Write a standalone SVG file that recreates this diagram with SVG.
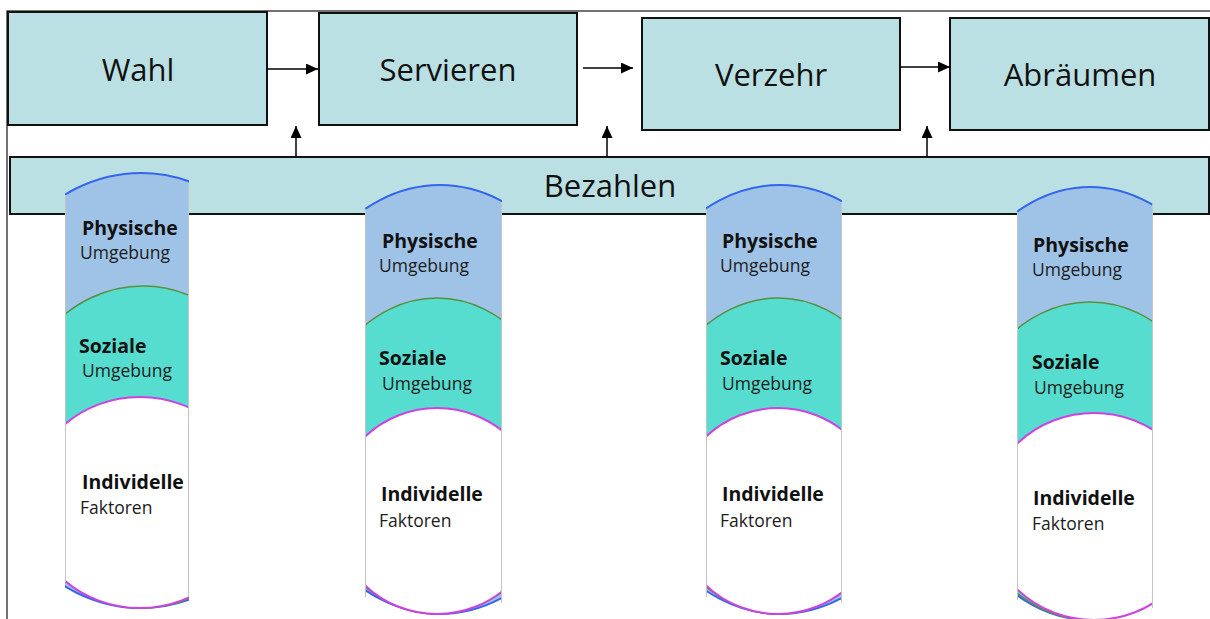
<svg xmlns="http://www.w3.org/2000/svg" width="1210" height="619" viewBox="0 0 1210 619">
<style>
.box{fill:#bbe0e3;stroke:#111;stroke-width:2}
.lbl{font-family:"Open Sans","Noto Sans",sans-serif;font-size:31px;fill:#111;text-anchor:middle}
.b{font-family:"Open Sans","Noto Sans",sans-serif;font-weight:bold;font-size:19.5px;fill:#111}
.r{font-family:"Open Sans","Noto Sans",sans-serif;font-size:17.5px;fill:#1c1c1c}
.blue{fill:#9ec3e7;stroke:#3366ee;stroke-width:2}
.teal{fill:#56ddd0;stroke:#5a8f3e;stroke-width:1.5}
.white{fill:#fff;stroke:#cc44dd;stroke-width:2}
.edge{stroke:#c4c4c4;stroke-width:1}
.frame{stroke:#444;stroke-width:1.5;fill:none}
.conn{stroke:#000;stroke-width:1.5;fill:none;marker-end:url(#ah)}
</style>
<defs>
<marker id="ah" markerUnits="userSpaceOnUse" markerWidth="13" markerHeight="11" refX="12" refY="5.5" orient="auto"><path d="M0,0 L12,5.5 L0,11 z" fill="#000"/></marker>
<clipPath id="c1"><rect x="65" y="150" width="124" height="469"/></clipPath>
<clipPath id="c2"><rect x="365" y="150" width="137" height="469"/></clipPath>
<clipPath id="c3"><rect x="706" y="150" width="136" height="469"/></clipPath>
<clipPath id="c4"><rect x="1017" y="150" width="136" height="469"/></clipPath>
</defs>

<g id="frame">
<path class="frame" d="M7,619 V11 H1210"/>
</g>

<g id="wahl"><rect class="box" x="8" y="12" width="259" height="113"/><text class="lbl" x="138" y="81">Wahl</text></g>
<g id="servieren"><rect class="box" x="319" y="13" width="258" height="112"/><text class="lbl" x="448" y="81">Servieren</text></g>
<g id="verzehr"><rect class="box" x="642" y="18" width="258" height="112"/><text class="lbl" x="771" y="86">Verzehr</text></g>
<g id="abraeumen"><rect class="box" x="950" y="18" width="259" height="112"/><text class="lbl" x="1080" y="86">Abräumen</text></g>
<g id="bezahlen"><rect class="box" x="10" y="157" width="1199" height="57"/><text class="lbl" x="610" y="197">Bezahlen</text></g>

<g id="col1">
<g clip-path="url(#c1)">
<ellipse class="blue" cx="141" cy="390.5" rx="175" ry="217.5"/>
<ellipse class="teal" cx="143" cy="447" rx="138" ry="161"/>
<ellipse class="white" cx="140" cy="502.5" rx="112" ry="105.5"/>
</g>
<line class="edge" x1="65.5" y1="195" x2="65.5" y2="582"/><line class="edge" x1="188.5" y1="183" x2="188.5" y2="597"/>
<text class="b" x="82" y="235">Physische</text><text class="r" x="80" y="259">Umgebung</text>
<text class="b" x="79" y="353">Soziale</text><text class="r" x="82" y="377">Umgebung</text>
<text class="b" x="82" y="489">Individelle</text><text class="r" x="80" y="514">Faktoren</text>
</g>

<g id="col2">
<g clip-path="url(#c2)">
<ellipse class="blue" cx="440" cy="399.5" rx="163" ry="214.5"/>
<ellipse class="teal" cx="437" cy="456" rx="128" ry="158"/>
<ellipse class="white" cx="437" cy="511" rx="104" ry="103"/>
</g>
<line class="edge" x1="365.5" y1="209" x2="365.5" y2="597"/><line class="edge" x1="501.5" y1="202" x2="501.5" y2="603"/>
<text class="b" x="382" y="248">Physische</text><text class="r" x="379" y="272">Umgebung</text>
<text class="b" x="379" y="365">Soziale</text><text class="r" x="382" y="390">Umgebung</text>
<text class="b" x="381" y="501">Individelle</text><text class="r" x="379" y="527">Faktoren</text>
</g>

<g id="col3">
<g clip-path="url(#c3)">
<ellipse class="blue" cx="780" cy="399.5" rx="163" ry="214.5"/>
<ellipse class="teal" cx="778" cy="456" rx="128" ry="158"/>
<ellipse class="white" cx="778" cy="511" rx="104" ry="103"/>
</g>
<line class="edge" x1="706.5" y1="210" x2="706.5" y2="597"/><line class="edge" x1="841.5" y1="202" x2="841.5" y2="603"/>
<text class="b" x="722" y="248">Physische</text><text class="r" x="720" y="272">Umgebung</text>
<text class="b" x="720" y="365">Soziale</text><text class="r" x="722" y="390">Umgebung</text>
<text class="b" x="722" y="501">Individelle</text><text class="r" x="720" y="527">Faktoren</text>
</g>

<g id="col4">
<g clip-path="url(#c4)">
<ellipse class="blue" cx="1090" cy="403.5" rx="157" ry="216.5"/>
<ellipse class="teal" cx="1090" cy="461" rx="131" ry="159"/>
<ellipse class="white" cx="1094" cy="516.5" rx="108" ry="103.5"/>
</g>
<line class="edge" x1="1017.5" y1="212" x2="1017.5" y2="600"/><line class="edge" x1="1152.5" y1="203" x2="1152.5" y2="608"/>
<text class="b" x="1033" y="252">Physische</text><text class="r" x="1032" y="276">Umgebung</text>
<text class="b" x="1032" y="369">Soziale</text><text class="r" x="1034" y="394">Umgebung</text>
<text class="b" x="1033" y="505">Individelle</text><text class="r" x="1032" y="530">Faktoren</text>
</g>

<g id="connectors">
<line class="conn" x1="267" y1="69" x2="318" y2="69"/>
<line class="conn" x1="583" y1="68" x2="633" y2="68"/>
<line class="conn" x1="900" y1="67" x2="950" y2="67"/>
<line class="conn" x1="296" y1="157" x2="296" y2="126"/>
<line class="conn" x1="607" y1="157" x2="607" y2="126"/>
<line class="conn" x1="927" y1="157" x2="927" y2="126"/>
</g>
</svg>
